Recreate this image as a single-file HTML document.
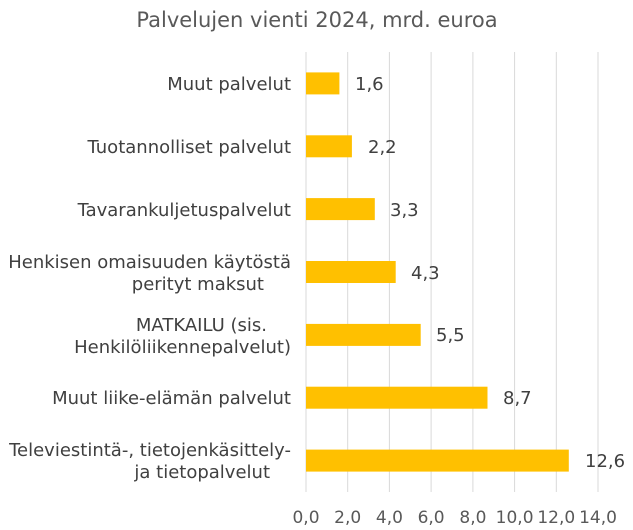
<!DOCTYPE html>
<html><head><meta charset="utf-8"><style>
body{margin:0;background:#fff}
svg{display:block;font-family:"DejaVu Sans",Verdana,"Liberation Sans",sans-serif}
</style></head><body>
<svg width="633" height="530" viewBox="0 0 633 530">
<text x="317" y="27" text-anchor="middle" font-size="21" fill="#595959">Palvelujen vienti 2024, mrd. euroa</text>
<g stroke="#d9d9d9" stroke-width="1">
<line x1="306" y1="52" x2="306" y2="492"/><line x1="347.7" y1="52" x2="347.7" y2="492"/>
<line x1="389.4" y1="52" x2="389.4" y2="492"/><line x1="431.1" y1="52" x2="431.1" y2="492"/>
<line x1="472.9" y1="52" x2="472.9" y2="492"/><line x1="514.6" y1="52" x2="514.6" y2="492"/>
<line x1="556.3" y1="52" x2="556.3" y2="492"/><line x1="598" y1="52" x2="598" y2="492"/>
</g>
<g fill="#FFC000">
<rect x="306" y="72.4" width="33.4" height="22"/>
<rect x="306" y="135.3" width="45.9" height="22"/>
<rect x="306" y="198.1" width="68.8" height="22"/>
<rect x="306" y="261" width="89.7" height="22"/>
<rect x="306" y="323.9" width="114.7" height="22"/>
<rect x="306" y="386.7" width="181.5" height="22"/>
<rect x="306" y="449.6" width="262.8" height="22"/>
</g>
<g font-size="18" fill="#404040">
<text x="355" y="90">1,6</text>
<text x="368" y="153">2,2</text>
<text x="390" y="216">3,3</text>
<text x="411" y="279">4,3</text>
<text x="436" y="341">5,5</text>
<text x="503" y="404">8,7</text>
<text x="585" y="467">12,6</text>
</g>
<g font-size="18" fill="#404040" text-anchor="end">
<text x="291" y="90">Muut palvelut</text>
<text x="291" y="153">Tuotannolliset palvelut</text>
<text x="291" y="216">Tavarankuljetuspalvelut</text>
<text x="291" y="268">Henkisen omaisuuden käytöstä</text>
<text x="264" y="290">perityt maksut</text>
<text x="267" y="331">MATKAILU (sis.</text>
<text x="291" y="353">Henkilöliikennepalvelut)</text>
<text x="291" y="404">Muut liike-elämän palvelut</text>
<text x="291" y="456">Televiestintä-, tietojenkäsittely-</text>
<text x="270" y="478">ja tietopalvelut</text>
</g>
<g font-size="17" fill="#595959" text-anchor="middle">
<text x="306" y="523">0,0</text><text x="347.7" y="523">2,0</text>
<text x="389.4" y="523">4,0</text><text x="431.1" y="523">6,0</text>
<text x="472.9" y="523">8,0</text><text x="514.6" y="523">10,0</text>
<text x="556.3" y="523">12,0</text><text x="598" y="523">14,0</text>
</g>
</svg>
</body></html>
